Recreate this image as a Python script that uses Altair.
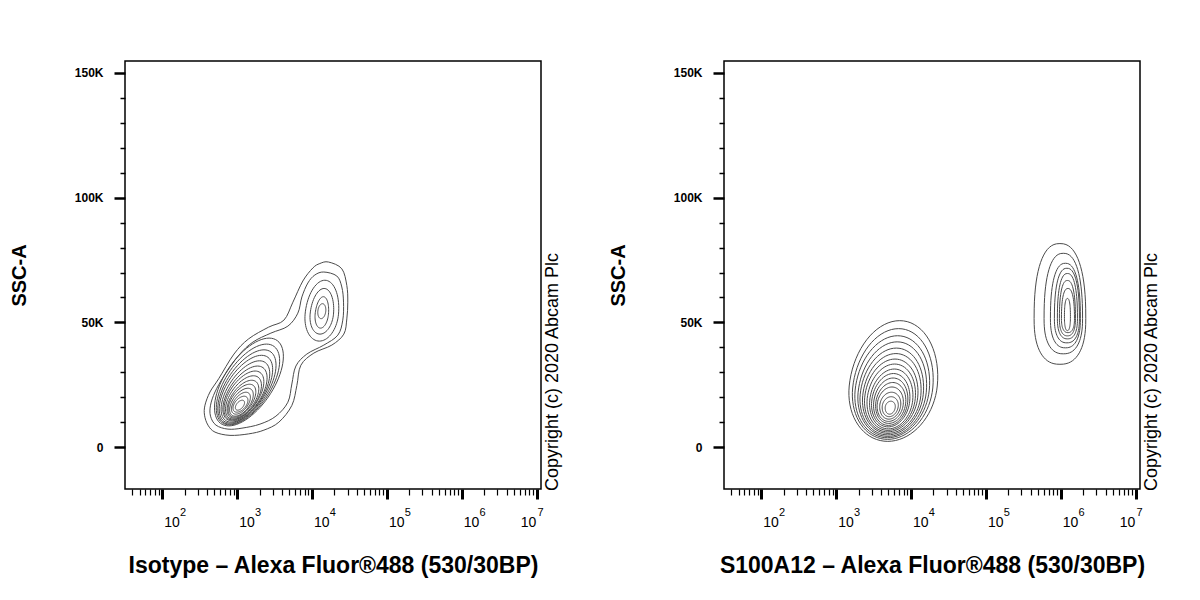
import math
import altair as alt
import pandas as pd

# ---------------- axis values / texts ----------------
X_DECADE_VALUES = [1e2, 1e3, 1e4, 1e5, 1e6, 1e7]
X_EXPONENTS = ["2", "3", "4", "5", "6", "7"]
X_MINOR_MULTIPLIERS = [2, 3, 4, 5, 6, 7, 8, 9]
X_DOMAIN = [10 ** 1.505, 10 ** 7.06]
Y_TICK_VALUES = list(range(0, 150001, 10000))
Y_MAJOR_VALUES = [0, 50000, 100000, 150000]
Y_MAJOR_LABELS = ["0", "50K", "100K", "150K"]
Y_DOMAIN = [-16800, 154800]

TITLE_LEFT = "Isotype – Alexa Fluor®488 (530/30BP)"
TITLE_RIGHT = "S100A12 – Alexa Fluor®488 (530/30BP)"
Y_TITLE = "SSC-A"
COPYRIGHT = "Copyright (c) 2020 Abcam Plc"

# ---------------- contour data (log10 fluorescence, SSC-A) ----------------
# Isotype panel: two outer contours enclosing both populations
M1_LOGX = [4.223, 4.400, 4.467, 4.480, 4.467, 4.427, 4.267, 4.027, 3.853, 3.800, 3.733, 3.560, 3.360, 3.156,
           2.907, 2.707, 2.613, 2.567, 2.573, 2.640, 2.756, 2.960, 3.156, 3.423, 3.627, 3.747, 3.880, 4.013, 4.107]
M1_SSC = [74200, 71500, 64800, 58100, 51400, 45300, 40900, 37700, 32800, 24700, 16700, 10000, 6800, 5300,
          4700, 6000, 8800, 12800, 16800, 22100, 27400, 37300, 43400, 48100, 50900, 58100, 66600, 71800, 73600]
M2_LOGX = [4.160, 4.333, 4.400, 4.423, 4.413, 4.347, 4.160, 3.933, 3.787, 3.733, 3.680, 3.520, 3.307, 3.067,
           2.880, 2.720, 2.647, 2.647, 2.707, 2.827, 3.027, 3.213, 3.453, 3.680, 3.813, 3.867, 3.947, 4.040]
M2_SSC = [70200, 68600, 64200, 58100, 50900, 44900, 40900, 37300, 32500, 25300, 18000, 12400, 9200, 7600,
          7200, 8800, 12400, 16800, 22100, 28500, 36900, 42100, 45700, 48500, 53700, 60200, 65800, 69000]

# Isotype panel: main population rings
LM_CX = [3.160, 3.147, 3.133, 3.120, 3.113, 3.107, 3.093, 3.087, 3.080, 3.067, 3.060, 3.053, 3.047, 3.040]
LM_CY = [26100, 25100, 24100, 23200, 22300, 21500, 20700, 19900, 19200, 18600, 18000, 17600, 17200, 16800]
LM_RX = [0.373, 0.343, 0.315, 0.290, 0.265, 0.243, 0.220, 0.200, 0.177, 0.155, 0.133, 0.107, 0.087, 0.053]
LM_RY = [17600, 16200, 14900, 13600, 12300, 11000, 9800, 8700, 7600, 6600, 5600, 4400, 3200, 2000]
LM_LEAN = 0.153  # decades per 10K SSC

# Isotype panel: upper population rings
LU_CX = [4.133, 4.133, 4.133, 4.133]
LU_CY = [53300, 53300, 53300, 54500]
LU_RX = [0.223, 0.156, 0.089, 0.053]
LU_RYT = [13600, 10300, 7000, 3000]
LU_RYB = [10800, 8000, 5600, 3000]
LU_LEAN = 0.03

# S100A12 panel: main population rings
RM_CX = [3.765, 3.758, 3.751, 3.751, 3.745, 3.745, 3.738, 3.738, 3.738, 3.731, 3.731, 3.731, 3.725, 3.725, 3.725, 3.725]
RM_CY = [24500, 23700, 22850, 22000, 21200, 20600, 20000, 19400, 18800, 18400, 18000, 17600, 17200, 16800, 16400, 16000]
RM_RX = [0.588, 0.535, 0.495, 0.455, 0.421, 0.388, 0.354, 0.321, 0.287, 0.254, 0.227, 0.200, 0.174, 0.140, 0.107, 0.067]
RM_RYT = [26200, 23800, 21800, 20200, 18500, 16900, 15300, 13900, 12500, 11100, 9700, 8300, 6900, 5200, 3800, 2400]
RM_RYB = [22200, 20600, 19100, 17700, 16300, 15100, 13900, 12700, 11500, 10300, 9300, 8100, 6900, 5600, 4200, 2800]
RM_LEAN = 0.033

# S100A12 panel: positive population rings
RP_CX = [5.991, 6.036, 6.064, 6.084, 6.091, 6.091, 6.098, 6.091]
RP_CY = [51500, 51500, 51500, 51500, 51500, 51500, 51500, 52300]
RP_RX = [0.345, 0.257, 0.200, 0.167, 0.134, 0.107, 0.087, 0.040]
RP_RYT = [30100, 26200, 22200, 20200, 18100, 15300, 12100, 7300]
RP_RYB = [18300, 14100, 11700, 9700, 8100, 6900, 5600, 5600]
RP_LEAN = 0.0

W, H = 416, 428
LINE_COLOR = "#4a4a4a"
FONT = "Liberation Sans"


def ring_rows(panel, prefix, cxs, cys, rxs, ryts, rybs, lean, expo=2.0, npts=72):
    rows = []
    for i, (cx, cy, rx, ryt, ryb) in enumerate(zip(cxs, cys, rxs, ryts, rybs)):
        for k in range(npts):
            t = 2 * math.pi * k / npts
            c, s = math.cos(t), math.sin(t)
            ce = math.copysign(abs(c) ** (2 / expo), c)
            se = math.copysign(abs(s) ** (2 / expo), s)
            dy = (ryt if se > 0 else ryb) * se
            lx = cx + rx * ce + lean * dy / 10000
            rows.append({"panel": panel, "kind": "ring", "cid": f"{prefix}{i}", "k": k,
                         "fl": 10 ** lx, "ssc": cy + dy})
    return rows


def path_rows(panel, cid, logx, ssc):
    return [{"panel": panel, "kind": "merged", "cid": cid, "k": k, "fl": 10 ** lx, "ssc": y}
            for k, (lx, y) in enumerate(zip(logx, ssc))]


rows = []
rows += path_rows("iso", "M1", M1_LOGX, M1_SSC)
rows += path_rows("iso", "M2", M2_LOGX, M2_SSC)
rows += ring_rows("iso", "LM", LM_CX, LM_CY, LM_RX, LM_RY, LM_RY, LM_LEAN)
rows += ring_rows("iso", "LU", LU_CX, LU_CY, LU_RX, LU_RYT, LU_RYB, LU_LEAN)
rows += ring_rows("s100", "RM", RM_CX, RM_CY, RM_RX, RM_RYT, RM_RYB, RM_LEAN)
rows += ring_rows("s100", "RP", RP_CX, RP_CY, RP_RX, RP_RYT, RP_RYB, RP_LEAN, expo=2.4)
df = pd.DataFrame(rows)

lab_df = pd.DataFrame({"fl": X_DECADE_VALUES, "exp": X_EXPONENTS})

# ---------------- axes ----------------
x_ticks = [m * d / 10 for d in X_DECADE_VALUES for m in X_MINOR_MULTIPLIERS
           if X_DOMAIN[0] <= m * d / 10 <= X_DOMAIN[1]] + X_DECADE_VALUES
x_ticks = sorted(set(x_ticks))
x_major_test = "indexof([" + ",".join(str(int(v)) for v in X_DECADE_VALUES) + "], datum.value) >= 0"
y_major_test = "datum.value % 50000 === 0"
y_label_expr = "".join(f"datum.value === {v} ? '{lab}' : "
                       for v, lab in zip(Y_MAJOR_VALUES, Y_MAJOR_LABELS)) + "''"


def x_axis(title):
    return alt.Axis(
        values=x_ticks, labels=False, title=title, domain=False, grid=False,
        tickColor="black",
        tickSize={"condition": {"test": x_major_test, "value": 10}, "value": 6},
        tickWidth={"condition": {"test": x_major_test, "value": 3}, "value": 1.2},
        titleFont=FONT, titleFontSize=23, titleFontWeight="bold", titleColor="black", titlePadding=54,
    )


y_axis = alt.Axis(
    values=Y_TICK_VALUES, labelExpr=y_label_expr, title=Y_TITLE, domain=False, grid=False,
    tickColor="black",
    tickSize={"condition": {"test": y_major_test, "value": 11}, "value": 5},
    tickWidth={"condition": {"test": y_major_test, "value": 2.5}, "value": 1.5},
    labelPadding=11, labelFont=FONT, labelFontSize=12, labelFontWeight="bold", labelColor="black",
    labelOverlap=False, labelFlush=False,
    titleFont=FONT, titleFontSize=20, titleFontWeight="bold", titleColor="black", titlePadding=45,
)

x_scale = alt.Scale(type="log", domain=X_DOMAIN, nice=False)
y_scale = alt.Scale(domain=Y_DOMAIN, nice=False, zero=False)


def panel(panel_id, title):
    xenc = alt.X("fl:Q", scale=x_scale, axis=x_axis(title))
    base = alt.Chart(df).transform_filter(alt.datum.panel == panel_id).encode(
        x=xenc,
        y=alt.Y("ssc:Q", scale=y_scale, axis=y_axis),
        detail="cid:N",
        order="k:Q",
    )
    layers = [base.transform_filter(alt.datum.kind == "ring").mark_line(
        interpolate="linear-closed", stroke=LINE_COLOR, strokeWidth=1, clip=True)]
    if (df[df.panel == panel_id].kind == "merged").any():
        layers.append(base.transform_filter(alt.datum.kind == "merged").mark_line(
            interpolate="cardinal-closed", stroke=LINE_COLOR, strokeWidth=1, clip=True))

    # decade labels "10" with raised exponent, placed through the x scale
    lab = alt.Chart(lab_df).encode(x=xenc)
    last = alt.datum.exp == X_EXPONENTS[-1]
    not_last = alt.datum.exp != X_EXPONENTS[-1]
    txt = dict(font=FONT, color="black", baseline="alphabetic", align="center")
    layers += [
        lab.transform_filter(not_last).mark_text(text="10", dx=10, fontSize=14, **txt)
        .encode(y=alt.value(H + 38)),
        lab.transform_filter(not_last).mark_text(dx=21, fontSize=11, **txt)
        .encode(text="exp:N", y=alt.value(H + 27)),
        lab.transform_filter(last).mark_text(text="10", dx=-8, fontSize=14, **txt)
        .encode(y=alt.value(H + 38)),
        lab.transform_filter(last).mark_text(dx=4, fontSize=11, **txt)
        .encode(text="exp:N", y=alt.value(H + 27)),
    ]

    note = alt.Chart(pd.DataFrame({"t": [COPYRIGHT]})).mark_text(
        angle=270, align="left", baseline="middle", font=FONT, fontSize=18, color="black"
    ).encode(text="t:N", x=alt.value(W + 12), y=alt.value(H + 2))
    layers.append(note)
    return alt.layer(*layers).properties(width=W, height=H)


chart = alt.hconcat(panel("iso", TITLE_LEFT), panel("s100", TITLE_RIGHT), spacing=44).properties(
    padding={"left": 0, "top": 52, "right": 5, "bottom": 5},
    background="white",
).configure_view(stroke="black", strokeWidth=1.5)

chart.save("out.html", embed_options={"renderer": "svg", "actions": False})
